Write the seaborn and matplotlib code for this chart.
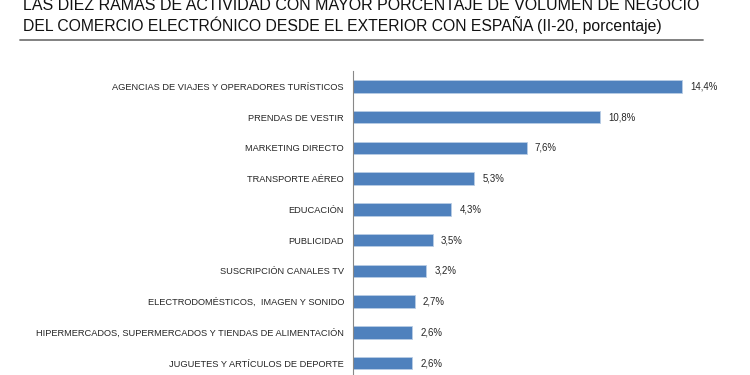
import matplotlib
matplotlib.use("Agg")
import matplotlib.pyplot as plt
import seaborn as sns
import pandas as pd
from matplotlib.lines import Line2D

categories = [
    "AGENCIAS DE VIAJES Y OPERADORES TURÍSTICOS",
    "PRENDAS DE VESTIR",
    "MARKETING DIRECTO",
    "TRANSPORTE AÉREO",
    "EDUCACIÓN",
    "PUBLICIDAD",
    "SUSCRIPCIÓN CANALES TV",
    "ELECTRODOMÉSTICOS,  IMAGEN Y SONIDO",
    "HIPERMERCADOS, SUPERMERCADOS Y TIENDAS DE ALIMENTACIÓN",
    "JUGUETES Y ARTÍCULOS DE DEPORTE",
]
values = [14.4, 10.8, 7.6, 5.3, 4.3, 3.5, 3.2, 2.7, 2.6, 2.6]
value_labels = ["14,4%", "10,8%", "7,6%", "5,3%", "4,3%", "3,5%", "3,2%", "2,7%", "2,6%", "2,6%"]

title_lines = [
    "LAS DIEZ RAMAS DE ACTIVIDAD CON MAYOR PORCENTAJE DE VOLUMEN DE NEGOCIO",
    "DEL COMERCIO ELECTRÓNICO DESDE EL EXTERIOR CON ESPAÑA (II-20, porcentaje)",
]

df = pd.DataFrame({"cat": categories, "val": values})

sns.set_style("white")
plt.rcParams["font.family"] = ["Liberation Sans", "DejaVu Sans"]

W, H = 750, 375
fig = plt.figure(figsize=(7.5, 3.75), dpi=100)
ax = fig.add_axes([353 / W, 1 - 378.5 / H, 366 / W, (378.5 - 71) / H])

sns.barplot(data=df, x="val", y="cat", orient="h", color="#4F81BD",
            saturation=1, width=0.4, edgecolor="#B9CDE5", linewidth=0.6, ax=ax)

ax.set_xlim(0, 16)
ax.set_ylim(len(categories) - 0.5, -0.5)
ax.set_xlabel("")
ax.set_ylabel("")
ax.set_xticks([])
for s in ["top", "right", "bottom"]:
    ax.spines[s].set_visible(False)
ax.spines["left"].set_color("#888888")
ax.spines["left"].set_linewidth(0.8)

ax.set_yticks(range(len(categories)))
ax.set_yticklabels(categories, fontsize=6.7, color="#262626")
ax.tick_params(axis="y", which="major", length=0, pad=6.5)
ax.set_yticks([i - 0.5 for i in range(len(categories) + 1)], minor=True)
ax.tick_params(axis="y", which="minor", length=3, color="#888888", width=0.8, direction="out")

for i, (v, lab) in enumerate(zip(values, value_labels)):
    ax.text(v + 0.35, i, lab, va="center", ha="left", fontsize=6.9, color="#262626")

fig.text(23 / W, 1 - 6 / H, title_lines[0], fontsize=11.5, ha="left", va="center", color="#111111")
fig.text(23 / W, 1 - 25 / H, title_lines[1], fontsize=11.3, ha="left", va="center", color="#111111")
fig.add_artist(Line2D([20 / W, 703 / W], [1 - 39.5 / H, 1 - 39.5 / H], transform=fig.transFigure,
                      color="#777777", linewidth=1.3))

fig.savefig("out.png", dpi=100)
